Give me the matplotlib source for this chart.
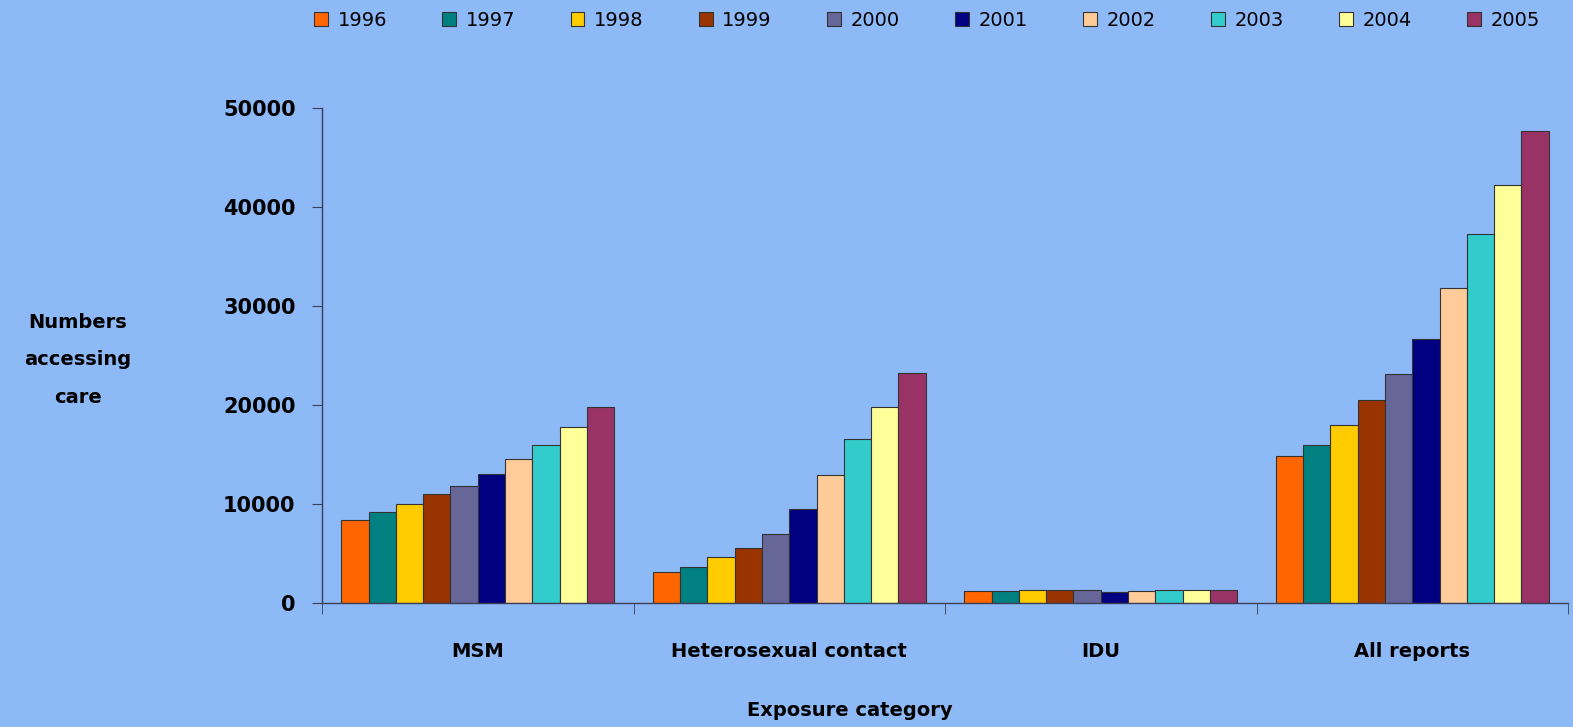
import numpy as np
import matplotlib
matplotlib.use('Agg')
import matplotlib.pyplot as plt

# numbers accessing care by exposure category, one list per year
categories = ['MSM', 'Heterosexual contact', 'IDU', 'All reports']
years = ['1996', '1997', '1998', '1999', '2000', '2001', '2002', '2003', '2004', '2005']
v1996 = [8400, 3100, 1200, 14800]
v1997 = [9200, 3600, 1200, 16000]
v1998 = [10000, 4600, 1300, 18000]
v1999 = [11000, 5600, 1300, 20500]
v2000 = [11800, 7000, 1300, 23100]
v2001 = [13000, 9500, 1100, 26700]
v2002 = [14500, 12900, 1200, 31800]
v2003 = [16000, 16600, 1300, 37300]
v2004 = [17800, 19800, 1300, 42200]
v2005 = [19800, 23200, 1300, 47700]
values = [v1996, v1997, v1998, v1999, v2000, v2001, v2002, v2003, v2004, v2005]

colours = ['#FF6600', '#008080', '#FFCC00', '#993300', '#666699',
           '#000080', '#FFCC99', '#33CCCC', '#FFFF99', '#993366']
bg = '#8EB9F7'
axcol = '#3a3f55'

plt.rcParams['font.family'] = 'DejaVu Sans'

fig = plt.figure(figsize=(15.73, 7.27), dpi=100, facecolor=bg)
ax = fig.add_axes([322/1573, 1-603/727, (1568-322)/1573, (603-108)/727])
ax.set_facecolor(bg)

x = np.arange(len(categories))
w = 0.0875
handles = []
for i in range(len(years)):
    b = ax.bar(x + (i - 4.5)*w, values[i], w, color=colours[i],
               edgecolor='#333333', linewidth=0.8, label=years[i])
    handles.append(b)

ax.set_xlim(-0.5, 3.5)
ax.set_ylim(0, 50000)
ax.set_yticks(np.arange(0, 50001, 10000))
ax.set_xticks(x)
ax.set_xticklabels(categories)
ax.set_xticks(np.arange(-0.5, 3.6, 1), minor=True)
ax.tick_params(axis='x', which='major', length=0, pad=40, labelsize=14)
ax.tick_params(axis='x', which='minor', length=8, color=axcol, direction='out')
ax.tick_params(axis='y', length=7, color=axcol, labelsize=15, pad=12)
for lab in ax.get_xticklabels() + ax.get_yticklabels():
    lab.set_fontweight('bold')
for s in ['top', 'right']:
    ax.spines[s].set_visible(False)
for s in ['left', 'bottom']:
    ax.spines[s].set_color(axcol)
    ax.spines[s].set_linewidth(1.0)

# category labels sit a bit higher than the default pad
for lab in ax.get_xticklabels():
    lab.set_y(lab.get_position()[1])
ax.tick_params(axis='x', which='major', pad=28)

fig.text(78/1573, 1-360/727, 'Numbers\naccessing\ncare', ha='center', va='center',
         fontsize=14, fontweight='bold', linespacing=2.25)
fig.text(850/1573, 1-710/727, 'Exposure category', ha='center', va='center',
         fontsize=14, fontweight='bold')

leg = fig.legend(handles=handles, labels=years, loc='center',
                 bbox_to_anchor=(927/1573, 1-20/727), ncol=10, frameon=False,
                 fontsize=14, handlelength=0.7, handleheight=0.7,
                 handletextpad=0.5, columnspacing=2.85)

plt.savefig('out.png', dpi=100, facecolor=bg)
